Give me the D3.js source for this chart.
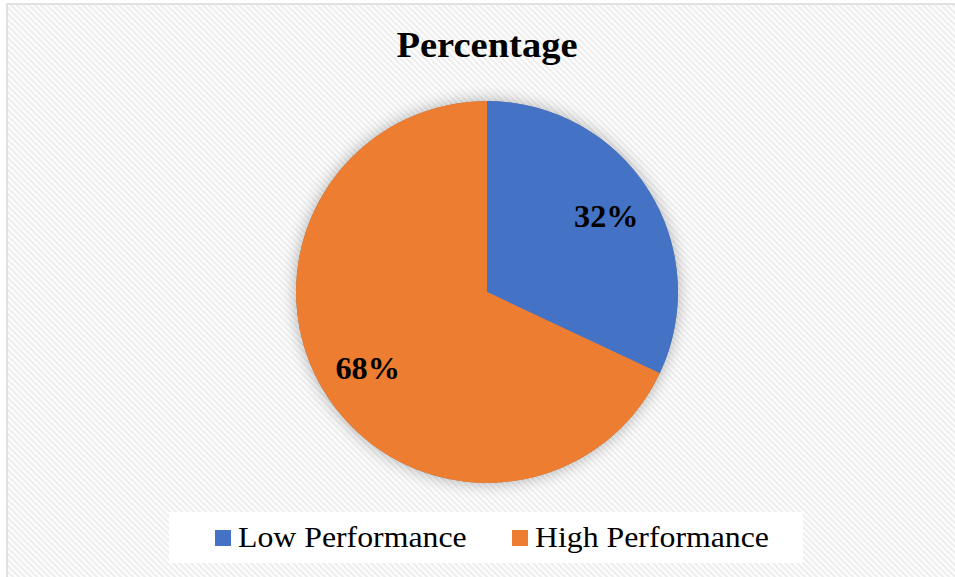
<!DOCTYPE html>
<html><head><meta charset="utf-8">
<script src="https://cdn.jsdelivr.net/npm/d3@7"></script>
<style>html,body{margin:0;padding:0;background:#fff;}svg{display:block;}</style>
</head><body>
<script>
const categories = ["Low Performance", "High Performance"];
const values = [32, 68];
const labels = ["32%", "68%"];
const colors = ["#4472C4", "#ED7D31"];
const title = "Percentage";

const W = 955, H = 577;
const FONT = "'Liberation Serif', 'Times New Roman', serif";
const svg = d3.select("body").append("svg").attr("width", W).attr("height", H);
const defs = svg.append("defs");
const pat = defs.append("pattern").attr("id", "diag").attr("patternUnits", "userSpaceOnUse")
  .attr("width", 6).attr("height", 6);
pat.append("rect").attr("width", 6).attr("height", 6).attr("fill", "#ffffff");
pat.append("path").attr("d", "M-1,-1 L7,7 M-4,2 L4,10 M2,-4 L10,4")
  .attr("stroke", "#efefef").attr("stroke-width", 2.4);
const f = defs.append("filter").attr("id", "glow").attr("x", "-20%").attr("y", "-20%").attr("width", "140%").attr("height", "140%");
f.append("feGaussianBlur").attr("in", "SourceAlpha").attr("stdDeviation", 8).attr("result", "b");
f.append("feComponentTransfer").attr("in", "b").attr("result", "c")
  .append("feFuncA").attr("type", "linear").attr("slope", 0.3);
const fm = f.append("feMerge");
fm.append("feMergeNode").attr("in", "c");
fm.append("feMergeNode").attr("in", "SourceGraphic");

svg.append("rect").attr("x", 7).attr("y", 4).attr("width", W).attr("height", H)
  .attr("fill", "url(#diag)").attr("stroke", "#d9d9d9").attr("stroke-width", 1.5);

svg.append("text").attr("transform", "translate(487,57) scale(1.07,1)").attr("text-anchor", "middle")
  .attr("font-family", FONT)
  .attr("font-weight", "bold").attr("font-size", 36).attr("fill", "#000").text(title);

const cx = 487, cy = 292, r = 191;
const pie = d3.pie().sort(null).value(d => d);
const arcs = pie(values);
const arc = d3.arc().innerRadius(0).outerRadius(r);
const labelArc = d3.arc().innerRadius(r * 0.74).outerRadius(r * 0.74);
const g = svg.append("g").attr("transform", `translate(${cx},${cy})`);
g.append("circle").attr("r", r).attr("fill", "#888").attr("filter", "url(#glow)");
g.selectAll("path.slice").data(arcs).join("path").attr("class", "slice")
  .attr("d", arc).attr("fill", (d, i) => colors[i]);
g.selectAll("text.lbl").data(arcs).join("text").attr("class", "lbl")
  .attr("transform", d => { const c = labelArc.centroid(d); return `translate(${c[0]},${c[1]}) scale(1.04,1)`; })
  .attr("text-anchor", "middle").attr("dy", "0.35em")
  .attr("font-family", FONT)
  .attr("font-weight", "bold").attr("font-size", 31).attr("fill", "#000")
  .text((d, i) => labels[i]);

// legend
const lg = svg.append("g");
lg.append("rect").attr("x", 169).attr("y", 512).attr("width", 634).attr("height", 51).attr("fill", "#fff");
const legX = [215, 512];
categories.forEach((c, i) => {
  lg.append("rect").attr("x", legX[i]).attr("y", 530).attr("width", 16).attr("height", 16).attr("fill", colors[i]);
  lg.append("text").attr("transform", `translate(${legX[i] + 23},547) scale(1.06,1)`)
    .attr("font-family", FONT)
    .attr("font-size", 30).attr("fill", "#000").text(c);
});
</script>
</body></html>
